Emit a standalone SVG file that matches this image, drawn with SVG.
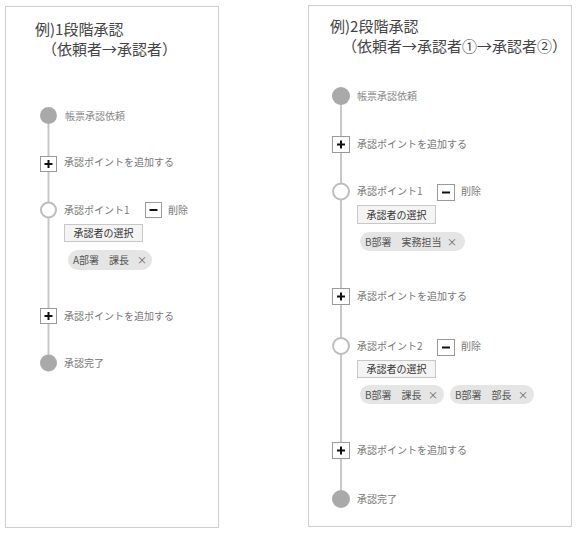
<svg xmlns="http://www.w3.org/2000/svg" width="577" height="533" viewBox="0 0 577 533">
<style>
text{font-family:"Noto Sans CJK JP","Noto Sans",sans-serif}
.panel{fill:#fff;stroke:#cfcfcf;stroke-width:1}
.title{font-size:15px;fill:#444}
.lbl{font-size:10px;fill:#777}
.lbl2{font-size:10px;fill:#888}
.done{fill:#a9a9a9}
.open{fill:#fff;stroke:#bdbdbd;stroke-width:2}
.box{fill:#fff;stroke:#999;stroke-width:1}
.sign{stroke:#111;stroke-width:2;fill:none}
.btn{fill:#f4f4f4;stroke:#c8c8c8;stroke-width:1}
.btnt{font-size:10px;fill:#333;text-anchor:middle}
.chip{fill:#e5e5e5}
.chipt{font-size:10px;fill:#555}
.x{font-size:10px;fill:#666}
.tl{stroke:#c8c8c8;stroke-width:2}
</style>
<rect class="panel" x="5.5" y="6.5" width="213" height="521"/>
<rect class="panel" x="308.5" y="5.5" width="263" height="521"/>
<g id="connectors">
<line class="tl" x1="48.5" y1="116" x2="48.5" y2="363"/>
<line class="tl" x1="341" y1="96" x2="341" y2="498"/>
</g>
<g id="title1">
<text class="title"><tspan x="35" y="35">例)1段階承認</tspan><tspan x="42" y="55">（依頼者→承認者）</tspan></text>
</g>
<g id="l-start">
<circle class="done" cx="48.5" cy="115.5" r="8.5"/>
<text class="lbl2" x="65" y="119.5">帳票承認依頼</text>
</g>
<g id="l-add1">
<rect class="box" x="40.5" y="156.5" width="16" height="15"/>
<path class="sign" d="M44.5 164h8M48.5 160v8"/>
<text class="lbl" x="64" y="166">承認ポイントを追加する</text>
</g>
<g id="l-point1">
<circle class="open" cx="48.5" cy="210" r="7.5"/>
<text class="lbl" x="64" y="214">承認ポイント1</text>
<rect class="box" x="145.5" y="202.5" width="16" height="15"/>
<path class="sign" d="M149.5 210h8"/>
<text class="lbl" x="168" y="214">削除</text>
<rect class="btn" x="64.5" y="224.5" width="78" height="17"/>
<text class="btnt" x="103.5" y="237">承認者の選択</text>
<rect class="chip" x="68" y="250" width="84" height="20" rx="10"/>
<text class="chipt" x="73" y="264">A部署　課長</text>
<text class="x" x="137" y="264">×</text>
</g>
<g id="l-add2">
<rect class="box" x="40.5" y="308.5" width="16" height="15"/>
<path class="sign" d="M44.5 316h8M48.5 312v8"/>
<text class="lbl" x="64" y="320">承認ポイントを追加する</text>
</g>
<g id="l-end">
<circle class="done" cx="48.5" cy="363" r="8.5"/>
<text class="lbl" x="64" y="367">承認完了</text>
</g>
<g id="title2">
<text class="title"><tspan x="330" y="32">例)2段階承認</tspan><tspan x="342" y="52">（依頼者→承認者①→承認者②）</tspan></text>
</g>
<g id="r-start">
<circle class="done" cx="341" cy="96" r="9"/>
<text class="lbl2" x="357" y="100">帳票承認依頼</text>
</g>
<g id="r-add1">
<rect class="box" x="332.5" y="136.5" width="17" height="16"/>
<path class="sign" d="M337 144.5h8M341 140.5v8"/>
<text class="lbl" x="357" y="148">承認ポイントを追加する</text>
</g>
<g id="r-point1">
<circle class="open" cx="341" cy="191.5" r="8"/>
<text class="lbl" x="357" y="195">承認ポイント1</text>
<rect class="box" x="437.5" y="184.5" width="17" height="16"/>
<path class="sign" d="M442 192.5h8"/>
<text class="lbl" x="461" y="195">削除</text>
<rect class="btn" x="357.5" y="205.5" width="78" height="18"/>
<text class="btnt" x="396.5" y="218.5">承認者の選択</text>
<rect class="chip" x="360" y="232" width="105" height="19" rx="9.5"/>
<text class="chipt" x="365" y="245.5">B部署　実務担当</text>
<text class="x" x="447" y="245.5">×</text>
</g>
<g id="r-add2">
<rect class="box" x="332.5" y="288.5" width="17" height="16"/>
<path class="sign" d="M337 296.5h8M341 292.5v8"/>
<text class="lbl" x="357" y="300">承認ポイントを追加する</text>
</g>
<g id="r-point2">
<circle class="open" cx="341" cy="346" r="8"/>
<text class="lbl" x="357" y="350">承認ポイント2</text>
<rect class="box" x="437.5" y="339.5" width="17" height="16"/>
<path class="sign" d="M442 347.5h8"/>
<text class="lbl" x="461" y="350">削除</text>
<rect class="btn" x="357.5" y="360.5" width="78" height="17"/>
<text class="btnt" x="396.5" y="373">承認者の選択</text>
<rect class="chip" x="360" y="385" width="84" height="19" rx="9.5"/>
<text class="chipt" x="365" y="398.5">B部署　課長</text>
<text class="x" x="428" y="398.5">×</text>
<rect class="chip" x="450" y="385" width="84" height="19" rx="9.5"/>
<text class="chipt" x="455" y="398.5">B部署　部長</text>
<text class="x" x="518" y="398.5">×</text>
</g>
<g id="r-add3">
<rect class="box" x="332.5" y="442.5" width="17" height="16"/>
<path class="sign" d="M337 450.5h8M341 446.5v8"/>
<text class="lbl" x="357" y="454">承認ポイントを追加する</text>
</g>
<g id="r-end">
<circle class="done" cx="341" cy="499" r="9"/>
<text class="lbl" x="357" y="503">承認完了</text>
</g>
</svg>
